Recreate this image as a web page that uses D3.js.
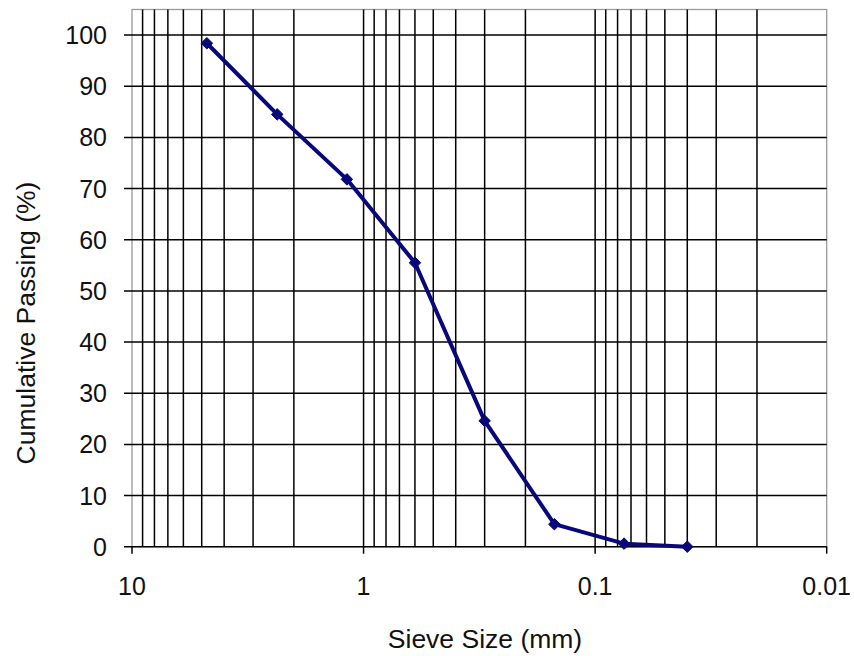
<!DOCTYPE html>
<html>
<head>
<meta charset="utf-8">
<script src="https://cdn.jsdelivr.net/npm/d3@7"></script>
<style>
  html, body { margin: 0; padding: 0; background: #fff; }
  svg { display: block; font-family: "Liberation Sans", Arial, sans-serif; }
</style>
</head>
<body>
<svg id="chart" width="854" height="656"></svg>
<script>
const sieveSizes = [4.75, 2.36, 1.18, 0.6, 0.3, 0.15, 0.075, 0.04];
const passing = [98.4, 84.5, 71.8, 55.5, 24.6, 4.4, 0.6, 0];
const yTicks = [0, 10, 20, 30, 40, 50, 60, 70, 80, 90, 100];
const xTickLabels = [10, 1, 0.1, 0.01];
const xTitle = "Sieve Size (mm)";
const yTitle = "Cumulative Passing (%)";

(function () {
const svg = d3.select("#chart");
const pLeft = 132, pRight = 826.7, pTop = 9.5, pBottom = 546.7;

const x = d3.scaleLog().domain([10, 0.01]).range([pLeft, pRight]);
const y = d3.scaleLinear().domain([0, 105]).range([pBottom, pTop]);

// minor vertical gridlines (1..9 multiples in each decade)
const minor = [];
[1, 0.1, 0.01].forEach(d => { for (let k = 1; k <= 9; k++) minor.push(+(k * d).toPrecision(3)); });
const vGrid = minor.filter(v => v <= 10 && v > 0.01);

const g = svg.append("g");

// plot border (top/right gray)
g.append("rect")
  .attr("x", pLeft).attr("y", pTop)
  .attr("width", pRight - pLeft).attr("height", pBottom - pTop)
  .attr("fill", "none").attr("stroke", "#9a9a9a").attr("stroke-width", 1.3);

// vertical gridlines
g.selectAll("line.vg").data(vGrid).enter().append("line")
  .attr("class", "vg")
  .attr("x1", d => x(d)).attr("x2", d => x(d))
  .attr("y1", pTop).attr("y2", pBottom)
  .attr("stroke", "#000").attr("stroke-width", 1.5);

// horizontal gridlines with ticks extending left
g.selectAll("line.hg").data(yTicks).enter().append("line")
  .attr("class", "hg")
  .attr("x1", pLeft - 8).attr("x2", pRight)
  .attr("y1", d => y(d)).attr("y2", d => y(d))
  .attr("stroke", "#000").attr("stroke-width", 1.5);

// x major ticks
g.selectAll("line.xt").data(xTickLabels).enter().append("line")
  .attr("class", "xt")
  .attr("x1", d => x(d)).attr("x2", d => x(d))
  .attr("y1", pBottom).attr("y2", pBottom + 7)
  .attr("stroke", "#000").attr("stroke-width", 1.5);

// y tick labels
g.selectAll("text.yl").data(yTicks).enter().append("text")
  .attr("class", "yl")
  .attr("x", 107).attr("y", d => y(d))
  .attr("dy", "0.36em")
  .attr("text-anchor", "end")
  .attr("font-size", 25)
  .attr("fill", "#111")
  .text(d => d);

// x tick labels
g.selectAll("text.xl").data(xTickLabels).enter().append("text")
  .attr("class", "xl")
  .attr("x", d => x(d)).attr("y", 595)
  .attr("text-anchor", "middle")
  .attr("font-size", 25)
  .attr("fill", "#111")
  .text(d => String(d));

// axis titles
svg.append("text")
  .attr("x", 485).attr("y", 648)
  .attr("text-anchor", "middle")
  .attr("font-size", 26.5)
  .attr("fill", "#111")
  .text(xTitle);

svg.append("text")
  .attr("transform", "translate(35,323) rotate(-90)")
  .attr("text-anchor", "middle")
  .attr("font-size", 26.5)
  .attr("fill", "#111")
  .text(yTitle);

// data line
const data = sieveSizes.map((s, i) => ({ s, p: passing[i] }));
const line = d3.line().x(d => x(d.s)).y(d => y(d.p));
svg.append("path")
  .datum(data)
  .attr("d", line)
  .attr("fill", "none")
  .attr("stroke", "#08087a")
  .attr("stroke-width", 4)
  .attr("stroke-linejoin", "round");

// diamond markers
const sym = d3.symbol().type(d3.symbolDiamond2).size(85);
svg.selectAll("path.mk").data(data).enter().append("path")
  .attr("class", "mk")
  .attr("transform", d => `translate(${x(d.s)},${y(d.p)})`)
  .attr("d", sym)
  .attr("fill", "#08087a")
  .attr("stroke", "#08087a")
  .attr("stroke-width", 1);
})();
</script>
</body>
</html>
